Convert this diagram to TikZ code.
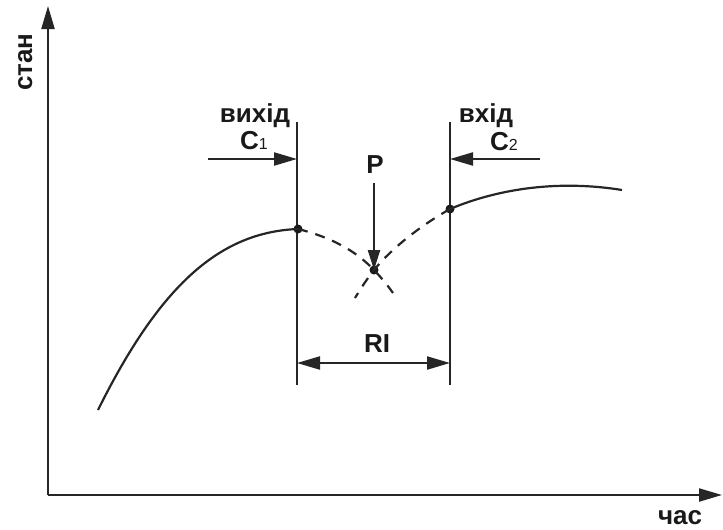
\documentclass[tikz,border=0pt]{standalone}
\usepackage{fontspec}
\setmainfont{Liberation Sans}
\usetikzlibrary{arrows.meta}
\begin{document}
\begin{tikzpicture}[x=1pt,y=-1pt,
  ln/.style={line width=2.2pt,color=black!85},
  arr/.style={ln,-{Triangle[length=23pt,width=13pt]}},
  dashline/.style={line width=2.2pt,color=black!85,dash pattern=on 10pt off 8pt},
  lbl/.style={font=\fontsize{26}{26}\selectfont\bfseries,inner sep=0pt,anchor=base,color=black!90},
  dotn/.style={circle,fill=black!90,inner sep=0pt,minimum size=9pt}]
\useasboundingbox (0,0) rectangle (723,530);
% axes
\coordinate (O) at (48,495);
\coordinate (ytip) at (48,6);
\coordinate (xtip) at (722,495);
\draw[arr] (O) -- (ytip);
\draw[arr] (O) -- (xtip);
\node[lbl,rotate=90] (stan) at (32,62) {стан};
\node[lbl] (chas) at (680,524) {час};
% vertical lines
\coordinate (L1) at (297,122);
\coordinate (L2) at (297,385);
\coordinate (R1) at (450,122);
\coordinate (R2) at (450,385);
\draw[ln] (L1) -- (L2);
\draw[ln] (R1) -- (R2);
% points
\node[dotn] (A) at (298,229) {};
\node[dotn] (B) at (450,209) {};
\node[dotn] (P) at (374,270) {};
\coordinate (s0) at (98,410);
\coordinate (e0) at (622,190);
% curves
\draw[ln] (s0) .. controls (160,285) and (220,232) .. (A.center);
\draw[ln] (B.center) .. controls (500,188) and (560,180) .. (e0);
\coordinate (d1) at (393,293);
\coordinate (d2) at (355,298);
\draw[dashline] (A.center) .. controls (330,237) and (355,250) .. (P.center)
   .. controls (383,279.5) and (388,286) .. (d1);
\draw[dashline] (B.center) .. controls (420,226) and (392,248) .. (P.center)
   .. controls (367,279) and (361,288) .. (d2);
% labels
\node[lbl] (vyhid) at (255,122) {вихід};
\node[lbl] (c1) at (254,149) {C\mdseries\fontsize{16}{16}\selectfont 1};
\node[lbl] (vhid) at (486,122) {вхід};
\node[lbl] (c2) at (504,150) {C\mdseries\fontsize{16}{16}\selectfont 2};
\node[lbl] (plbl) at (375,173) {P};
\node[lbl] (ri) at (377,352) {RI};
% arrows
\coordinate (c1s) at (208,159);
\coordinate (c1e) at (297,159);
\coordinate (c2s) at (540,159);
\coordinate (c2e) at (450,159);
\draw[arr] (c1s) -- (c1e);
\draw[arr] (c2s) -- (c2e);
\coordinate (ps) at (374,183);
\draw[ln,-{Triangle[length=20pt,width=12pt]}] (ps) -- (P.center);
\coordinate (ri1) at (297,363);
\coordinate (ri2) at (450,363);
\draw[ln,{Triangle[length=23pt,width=13pt]}-{Triangle[length=23pt,width=13pt]}] (ri1) -- (ri2);
\end{tikzpicture}
\end{document}
